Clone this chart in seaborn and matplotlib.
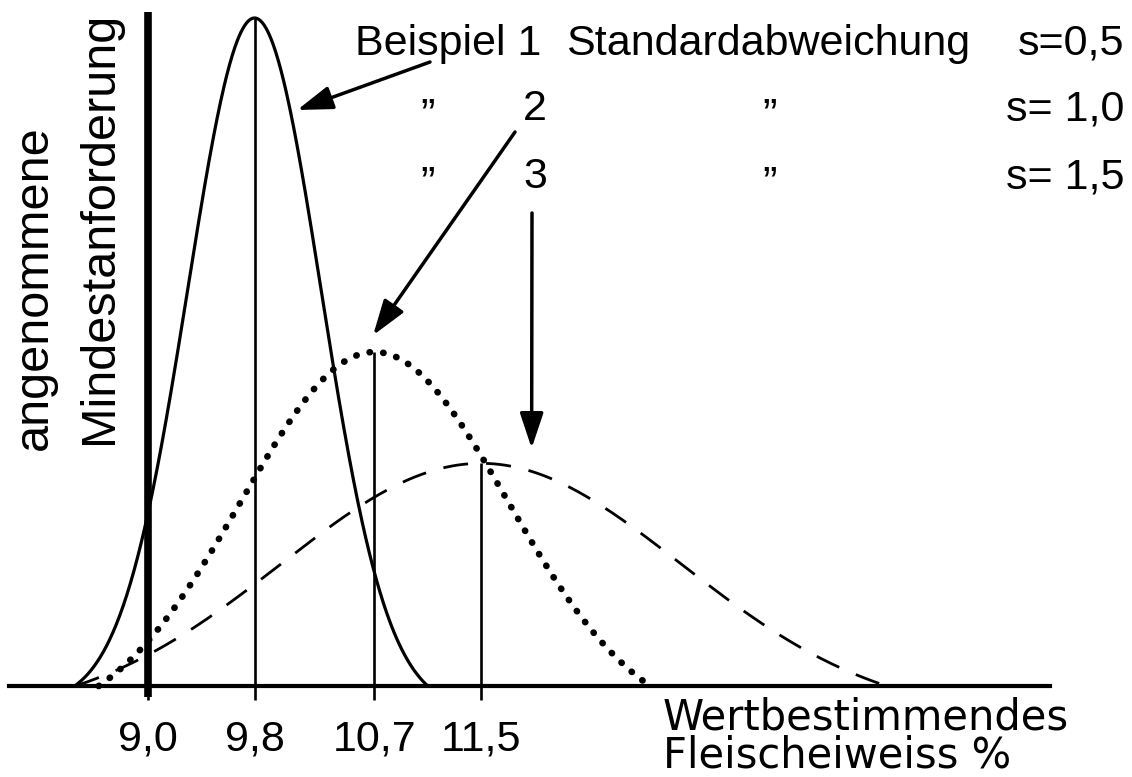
import numpy as np
import pandas as pd
import matplotlib.pyplot as plt
import seaborn as sns

# Three examples: mean protein value and standard deviation
beispiel = ["1", "2", "3"]
mittelwerte = [9.8, 10.7, 11.5]
std_abw = [0.5, 1.0, 1.5]
s_labels = ["s=0,5", "s= 1,0", "s= 1,5"]
# how far (in s) each drawn curve reaches to the left / right
z_links = [-2.7, -2.07, -2.03]
z_rechts = [2.6, 2.07, 2.03]

mindest = 9.0
tick_werte = [9.0, 9.8, 10.7, 11.5]
tick_labels = ["9,0", "9,8", "10,7", "11,5"]

ink = "#000000"

sns.set_style("white")
plt.rcParams["font.family"] = ["Liberation Sans", "DejaVu Sans"]

fig = plt.figure(figsize=(11.32, 7.77), dpi=100)
ax = fig.add_axes([0, 0, 1, 1])

# build the curves; the hand drawing lets each bell run down to the
# baseline at its ends, so the end value is taken off and the peak kept
frames = []
for b, m, s, zl, zr in zip(beispiel, mittelwerte, std_abw, z_links, z_rechts):
    x = np.linspace(m + zl * s, m + zr * s, 400)
    z = (x - m) / s
    g = np.exp(-0.5 * z ** 2)
    e0 = np.where(z < 0, np.exp(-0.5 * zl ** 2), np.exp(-0.5 * zr ** 2))
    peak = 1 / (s * np.sqrt(2 * np.pi))
    y = peak * (g - e0) / (1 - e0)
    frames.append(pd.DataFrame({"x": x, "dichte": y, "beispiel": b}))
df = pd.concat(frames, ignore_index=True)

stile = {
    "1": dict(lw=2.3, linestyle="-"),
    "2": dict(lw=4.8, linestyle=(0, (0.05, 2.0)), dash_capstyle="round"),
    "3": dict(lw=2.0, linestyle=(0, (9, 6.5))),
}
for b in beispiel:
    sub = df[df["beispiel"] == b]
    sns.lineplot(data=sub, x="x", y="dichte", color=ink, ax=ax,
                 sort=False, estimator=None, **stile[b])

# vertical lines at the means up to the peak
peaks = [1 / (s * np.sqrt(2 * np.pi)) for s in std_abw]
ax.vlines(mittelwerte, 0, peaks, color=ink, lw=1.9)

# assumed minimum requirement (thick line)
ax.vlines(mindest, -0.013, 0.805, color=ink, lw=5.5)

ax.set_xlim(7.889, 16.387)
ax.set_ylim(-0.1087, 0.8194)

# axis: only the baseline with ticks
for side in ["left", "top", "right"]:
    ax.spines[side].set_visible(False)
ax.spines["bottom"].set_position(("data", 0))
ax.spines["bottom"].set_bounds(7.96, 15.77)
ax.spines["bottom"].set_linewidth(3)
ax.spines["bottom"].set_color(ink)
ax.set_yticks([])
ax.set_xticks(tick_werte)
ax.set_xticklabels(tick_labels)
ax.tick_params(axis="x", bottom=True, direction="out", length=10, width=1.9,
               pad=14, labelsize=31, colors=ink)
ax.set_xlabel("")
ax.set_ylabel("")


def fx(px):
    return px / 1132


def fy(py):
    return 1 - py / 777


txt = dict(transform=ax.transAxes, fontsize=31, color=ink, va="baseline")

# legend-like text block
ax.text(fx(355), fy(55), "Beispiel 1", ha="left", **txt)
ax.text(fx(566), fy(55), "Standardabweichung", ha="left", **txt)
ax.text(fx(1124), fy(55), s_labels[0], ha="right", **txt)
for i, py in zip([1, 2], [120, 188]):
    ax.text(fx(428), fy(py + 8), "\u201d", ha="center", **txt)
    ax.text(fx(535), fy(py), beispiel[i], ha="center", **txt)
    ax.text(fx(770), fy(py + 8), "\u201d", ha="center", **txt)
    ax.text(fx(1124), fy(py), s_labels[i], ha="right", **txt)

# y label (two rotated lines)
ax.text(fx(34), fy(288), "angenommene", rotation=90, ha="center",
        va="center", transform=ax.transAxes, fontsize=35, color=ink)
ax.text(fx(100), fy(228), "Mindestanforderung", rotation=90, ha="center",
        va="center", transform=ax.transAxes, fontsize=35, color=ink)

# x label (one text, two lines)
ax.text(fx(663), fy(696), "Wertbestimmendes\nFleischeiweiss %", ha="left",
        va="top", linespacing=0.9, transform=ax.transAxes, fontsize=30,
        color=ink, family="DejaVu Sans")

# arrows from the labels to the curves
pfeil = dict(arrowstyle="-|>,head_length=0.9,head_width=0.3", color=ink,
             lw=2.5, mutation_scale=24, shrinkA=0, shrinkB=0)
ax.annotate("", xy=(10.12, 0.688), xycoords="data",
            xytext=(fx(430), fy(62)), textcoords="axes fraction",
            arrowprops=pfeil)
ax.annotate("", xy=(10.69, 0.419), xycoords="data",
            xytext=(fx(515), fy(132)), textcoords="axes fraction",
            arrowprops=pfeil)
ax.annotate("", xy=(11.88, 0.284), xycoords="data",
            xytext=(fx(532), fy(213)), textcoords="axes fraction",
            arrowprops=pfeil)

fig.savefig("out.png", dpi=100, facecolor="white")
